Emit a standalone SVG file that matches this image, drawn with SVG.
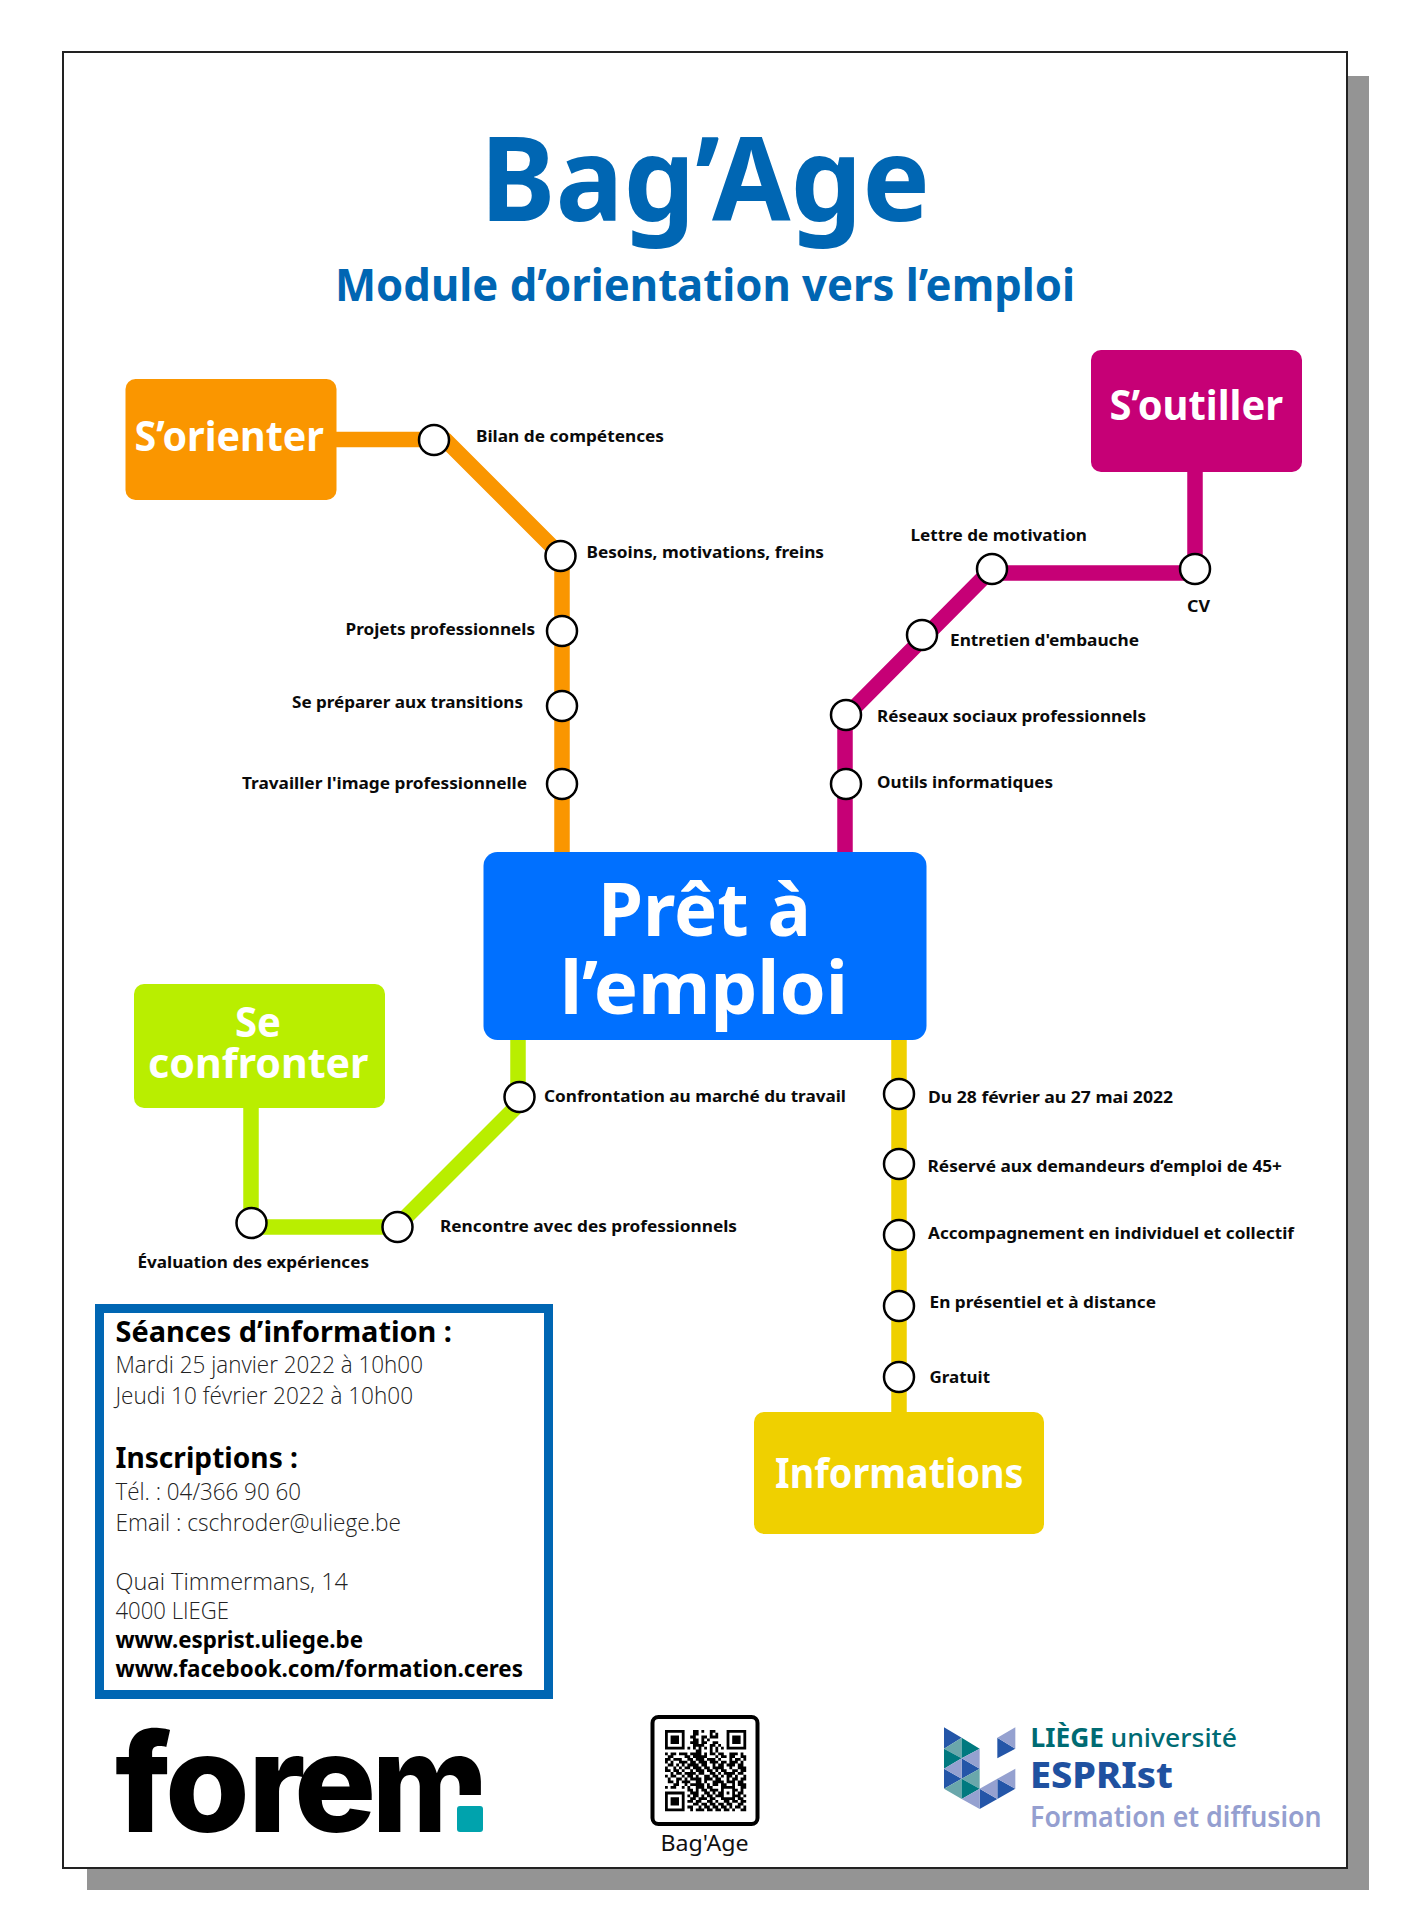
<svg xmlns="http://www.w3.org/2000/svg" width="1410" height="1920" viewBox="0 0 1410 1920">
<style>
text{font-family:"Noto Sans","Open Sans","Liberation Sans",sans-serif}
.t{font-weight:700;fill:#0066b3}
.n{font-weight:700;fill:#fff;font-size:41px}
.l{font-weight:700;font-size:16.5px;fill:#0a0a0a}
.h{font-weight:700;font-size:29px;fill:#000}
.b{font-family:"Open Sans","Noto Sans",sans-serif;font-weight:300;font-size:24px;fill:#222}
.u{font-weight:700;font-size:24px;fill:#000}
.s{fill:#fff;stroke:#000;stroke-width:2.5}
.c{fill:none;stroke-width:15.5;stroke-linejoin:round}
</style>
<rect x="87" y="76" width="1282" height="1814" fill="#949494"/>
<rect x="63" y="52" width="1284" height="1816" fill="#fff" stroke="#222" stroke-width="2"/>
<g id="title">
<text class="t" x="480" y="221" font-size="116" textLength="450" lengthAdjust="spacingAndGlyphs">Bag’Age</text>
<text class="t" x="335" y="301" font-size="44" textLength="740" lengthAdjust="spacingAndGlyphs">Module d’orientation vers l’emploi</text>
</g>
<g id="connectors">
<path class="c" stroke="#fa9600" d="M336 439.500H445L561.500 556H562V852"/>
<path class="c" stroke="#c60076" d="M1195 472V573H988L845 717V852"/>
<path class="c" stroke="#b9ee00" d="M251 1108V1227H396L518 1105V1040"/>
<path class="c" stroke="#efd000" d="M899 1040V1412"/>
</g>
<g id="node-sorienter">
<rect x="125.500" y="379" width="211" height="121" rx="10" fill="#fa9600"/>
<text class="n" x="134.500" y="451" textLength="189.500" lengthAdjust="spacingAndGlyphs">S’orienter</text>
</g>
<g id="node-soutiller">
<rect x="1091" y="350" width="211" height="122" rx="10" fill="#c60076"/>
<text class="n" x="1109.500" y="420" textLength="173.500" lengthAdjust="spacingAndGlyphs">S’outiller</text>
</g>
<g id="node-pret">
<rect x="483.500" y="852" width="443" height="188" rx="14" fill="#0070ff"/>
<text class="n" style="font-size:74px" x="598" y="936" textLength="213" lengthAdjust="spacingAndGlyphs">Prêt à</text>
<text class="n" style="font-size:74px" x="560" y="1014" textLength="288" lengthAdjust="spacingAndGlyphs">l’emploi</text>
</g>
<g id="node-confronter">
<rect x="134" y="984" width="251" height="124" rx="10" fill="#b9ee00"/>
<text class="n" x="235" y="1037" textLength="46" lengthAdjust="spacingAndGlyphs">Se</text>
<text class="n" x="148" y="1078" textLength="220.500" lengthAdjust="spacingAndGlyphs">confronter</text>
</g>
<g id="node-informations">
<rect x="754" y="1412" width="290" height="122" rx="10" fill="#efd000"/>
<text class="n" x="775" y="1488" textLength="248.500" lengthAdjust="spacingAndGlyphs">Informations</text>
</g>
<g id="stop-bilan"><circle class="s" cx="434" cy="440" r="15"/><text class="l" x="476" y="442" textLength="188" lengthAdjust="spacingAndGlyphs">Bilan de compétences</text></g>
<g id="stop-besoins"><circle class="s" cx="560.500" cy="556" r="15"/><text class="l" x="586.500" y="558" textLength="237.500" lengthAdjust="spacingAndGlyphs">Besoins, motivations, freins</text></g>
<g id="stop-projets"><circle class="s" cx="562" cy="631" r="15"/><text class="l" x="345.500" y="635" textLength="189.500" lengthAdjust="spacingAndGlyphs">Projets professionnels</text></g>
<g id="stop-transitions"><circle class="s" cx="562" cy="706" r="15"/><text class="l" x="292" y="708" textLength="231" lengthAdjust="spacingAndGlyphs">Se préparer aux transitions</text></g>
<g id="stop-image"><circle class="s" cx="562" cy="784" r="15"/><text class="l" x="242" y="788.500" textLength="285" lengthAdjust="spacingAndGlyphs">Travailler l'image professionnelle</text></g>
<g id="stop-cv"><circle class="s" cx="1195" cy="569" r="15"/><text class="l" x="1187" y="612" textLength="23" lengthAdjust="spacingAndGlyphs">CV</text></g>
<g id="stop-lettre"><circle class="s" cx="992" cy="569" r="15"/><text class="l" x="910.500" y="541" textLength="176.500" lengthAdjust="spacingAndGlyphs">Lettre de motivation</text></g>
<g id="stop-entretien"><circle class="s" cx="922" cy="635" r="15"/><text class="l" x="950" y="646" textLength="189" lengthAdjust="spacingAndGlyphs">Entretien d'embauche</text></g>
<g id="stop-reseaux"><circle class="s" cx="846" cy="715" r="15"/><text class="l" x="877" y="722" textLength="269" lengthAdjust="spacingAndGlyphs">Réseaux sociaux professionnels</text></g>
<g id="stop-outils"><circle class="s" cx="846" cy="784" r="15"/><text class="l" x="877" y="788" textLength="176" lengthAdjust="spacingAndGlyphs">Outils informatiques</text></g>
<g id="stop-confrontation"><circle class="s" cx="519.500" cy="1097" r="15"/><text class="l" x="544" y="1102" textLength="302" lengthAdjust="spacingAndGlyphs">Confrontation au marché du travail</text></g>
<g id="stop-rencontre"><circle class="s" cx="397.500" cy="1227" r="15"/><text class="l" x="440" y="1232" textLength="297" lengthAdjust="spacingAndGlyphs">Rencontre avec des professionnels</text></g>
<g id="stop-evaluation"><circle class="s" cx="251.500" cy="1223" r="15"/><text class="l" x="137.500" y="1268" textLength="231.500" lengthAdjust="spacingAndGlyphs">Évaluation des expériences</text></g>
<g id="stop-dates"><circle class="s" cx="899" cy="1094" r="15"/><text class="l" x="928" y="1103" textLength="245" lengthAdjust="spacingAndGlyphs">Du 28 février au 27 mai 2022</text></g>
<g id="stop-reserve"><circle class="s" cx="899" cy="1164" r="15"/><text class="l" x="927.500" y="1172" textLength="354.500" lengthAdjust="spacingAndGlyphs">Réservé aux demandeurs d’emploi de 45+</text></g>
<g id="stop-accompagnement"><circle class="s" cx="899" cy="1235" r="15"/><text class="l" x="928" y="1239" textLength="366" lengthAdjust="spacingAndGlyphs">Accompagnement en individuel et collectif</text></g>
<g id="stop-presentiel"><circle class="s" cx="899" cy="1306" r="15"/><text class="l" x="929.500" y="1308" textLength="226.500" lengthAdjust="spacingAndGlyphs">En présentiel et à distance</text></g>
<g id="stop-gratuit"><circle class="s" cx="899" cy="1377" r="15"/><text class="l" x="929.500" y="1383" textLength="60.500" lengthAdjust="spacingAndGlyphs">Gratuit</text></g>
<g id="info-box">
<rect x="99.500" y="1308.500" width="449" height="386" fill="#fff" stroke="#0066b3" stroke-width="9"/>
<text class="h" x="115.500" y="1342" textLength="336.500" lengthAdjust="spacingAndGlyphs">Séances d’information :</text>
<text class="b" x="115.500" y="1373" textLength="307.500" lengthAdjust="spacingAndGlyphs">Mardi 25 janvier 2022 à 10h00</text>
<text class="b" x="115.500" y="1404" textLength="297.500" lengthAdjust="spacingAndGlyphs">Jeudi 10 février 2022 à 10h00</text>
<text class="h" x="115.500" y="1468" textLength="182.500" lengthAdjust="spacingAndGlyphs">Inscriptions :</text>
<text class="b" x="115.500" y="1500" textLength="185.500" lengthAdjust="spacingAndGlyphs">Tél. : 04/366 90 60</text>
<text class="b" x="115.500" y="1531" textLength="285.500" lengthAdjust="spacingAndGlyphs">Email : cschroder@uliege.be</text>
<text class="b" x="115.500" y="1590" textLength="232.500" lengthAdjust="spacingAndGlyphs">Quai Timmermans, 14</text>
<text class="b" x="115.500" y="1619" textLength="113.500" lengthAdjust="spacingAndGlyphs">4000 LIEGE</text>
<text class="u" x="115.500" y="1648" textLength="247.500" lengthAdjust="spacingAndGlyphs">www.esprist.uliege.be</text>
<text class="u" x="115.500" y="1677" textLength="407.500" lengthAdjust="spacingAndGlyphs">www.facebook.com/formation.ceres</text>
</g>
<g id="logo-forem">
<text x="115 165 248 294" y="1832" style="font-family:Inter,'Noto Sans',sans-serif;font-weight:800" font-size="137">fore<tspan x="372" textLength="116" lengthAdjust="spacingAndGlyphs">m</tspan></text>
<rect x="448" y="1795" width="48" height="42" fill="#fff"/>
<rect x="457" y="1806" width="26" height="26" rx="3" fill="#00a3ad"/>
</g>
<g id="qr">
<rect x="652.500" y="1717" width="105" height="107" rx="6" fill="#fff" stroke="#000" stroke-width="4"/>
<g transform="translate(665 1730) scale(2.8)">
<path d="M0 0h7v7h-7zM1 1v5h5v-5zM2 2h3v3h-3zM22 0h7v7h-7zM23 1v5h5v-5zM24 2h3v3h-3zM0 22h7v7h-7zM1 23v5h5v-5zM2 24h3v3h-3z" fill-rule="evenodd"/>
<path fill="none" stroke="#000" stroke-width="1" d="M10 .5h2M13 .5h1M16 .5h2M10 1.500h2M16 1.500h1M18 1.500h1M9 2.500h2M13 2.500h2M16 2.500h3M10 3.500h2M13 3.500h1M15 3.500h1M9 4.500h3M13 4.500h2M17 4.500h2M10 5.500h4M16 5.500h2M19 5.500h1M8 6.500h1M10 6.500h1M12 6.500h1M14 6.500h1M16 6.500h1M18 6.500h1M20 6.500h1M11 7.500h2M16 7.500h1M18 7.500h1M0 8.500h1M2 8.500h2M5 8.500h3M9 8.500h4M14 8.500h1M16 8.500h2M19 8.500h2M23 8.500h3M27 8.500h1M1 9.500h2M7 9.500h2M10 9.500h5M18 9.500h1M20 9.500h2M23 9.500h2M27 9.500h2M0 10.500h2M3 10.500h3M8 10.500h2M11 10.500h3M15 10.500h3M19 10.500h1M23 10.500h1M25 10.500h2M28 10.500h1M0 11.500h1M2 11.500h1M5 11.500h3M9 11.500h2M12 11.500h3M16 11.500h3M20 11.500h2M23 11.500h3M27 11.500h1M1 12.500h2M4 12.500h1M6 12.500h1M8 12.500h4M13 12.500h2M17 12.500h1M19 12.500h2M22 12.500h3M26 12.500h2M0 13.500h1M3 13.500h1M5 13.500h1M7 13.500h2M10 13.500h3M14 13.500h2M17 13.500h4M23 13.500h1M26 13.500h3M0 14.500h2M3 14.500h2M6 14.500h1M9 14.500h1M11 14.500h3M15 14.500h2M18 14.500h1M20 14.500h2M24 14.500h2M27 14.500h2M2 15.500h1M4 15.500h2M7 15.500h4M12 15.500h2M16 15.500h2M19 15.500h1M21 15.500h4M26 15.500h2M0 16.500h1M2 16.500h2M6 16.500h1M8 16.500h2M11 16.500h1M14 16.500h2M17 16.500h2M20 16.500h1M22 16.500h2M25 16.500h1M28 16.500h1M1 17.500h1M4 17.500h2M7 17.500h1M9 17.500h4M14 17.500h3M18 17.500h2M22 17.500h1M24 17.500h2M27 17.500h2M1 18.500h2M4 18.500h1M6 18.500h3M11 18.500h2M14 18.500h1M17 18.500h4M22 18.500h3M26 18.500h2M3 19.500h2M7 19.500h1M9 19.500h5M15 19.500h1M17 19.500h2M20 19.500h2M24 19.500h1M26 19.500h3M0 20.500h1M2 20.500h2M6 20.500h1M8 20.500h1M11 20.500h3M15 20.500h2M20 20.500h5M27 20.500h2M8 21.500h2M11 21.500h1M13 21.500h2M16 21.500h3M20 21.500h1M24 21.500h2M27 21.500h1M9 22.500h3M14 22.500h2M17 22.500h1M19 22.500h2M22 22.500h1M24 22.500h1M26 22.500h2M8 23.500h1M10 23.500h2M13 23.500h1M15 23.500h2M18 23.500h2M20 23.500h1M24 23.500h3M28 23.500h1M9 24.500h2M12 24.500h3M16 24.500h2M20 24.500h5M26 24.500h2M8 25.500h2M11 25.500h2M15 25.500h2M18 25.500h1M21 25.500h2M24 25.500h2M27 25.500h2M10 26.500h2M13 26.500h2M16 26.500h2M19 26.500h2M22 26.500h2M26 26.500h2M8 27.500h2M12 27.500h1M14 27.500h2M17 27.500h2M20 27.500h2M23 27.500h1M25 27.500h2M28 27.500h1M9 28.500h1M11 28.500h3M15 28.500h2M18 28.500h2M21 28.500h2M24 28.500h1M27 28.500h2"/>
</g>
<text x="660.500" y="1851" font-size="22" fill="#111" textLength="88" lengthAdjust="spacingAndGlyphs">Bag'Age</text>
</g>
<g id="logo-uliege">
<g transform="translate(920 1700) scale(.33333)">
<path fill="#2456a8" d="M72 82V146L125 113ZM72 206V266L125 236ZM125 175V236L179 206ZM179 266V327L232 297ZM232 236V297L286 266ZM232 113V175L286 146Z"/>
<path fill="#6aa7ab" d="M72 146L125 113V175ZM72 266L125 236V297ZM125 236L179 206V266Z"/>
<path fill="#00797f" d="M72 146V206L125 175ZM125 113V175L179 146ZM125 236V297L179 266Z"/>
<path fill="#95a1d0" d="M72 206L125 175V236ZM125 175L179 146V206ZM125 297L179 266V327ZM179 266L232 236V297ZM232 236L286 206V266ZM232 113L286 82V146Z"/>
</g>
<text x="1030.500" y="1747" font-size="26" font-weight="700" fill="#006b73" textLength="73.500" lengthAdjust="spacingAndGlyphs">LIÈGE</text>
<text x="1110.500" y="1747" font-size="26" font-weight="500" fill="#006b73" textLength="126.500" lengthAdjust="spacingAndGlyphs">université</text>
<text x="1030" y="1788" font-size="35" font-weight="800" fill="#1f51a0" textLength="143" lengthAdjust="spacingAndGlyphs">ESPRIst</text>
<text x="1030" y="1827" font-size="29.500" font-weight="600" fill="#959fd0" textLength="291.500" lengthAdjust="spacingAndGlyphs">Formation et diffusion</text>
</g>
</svg>
